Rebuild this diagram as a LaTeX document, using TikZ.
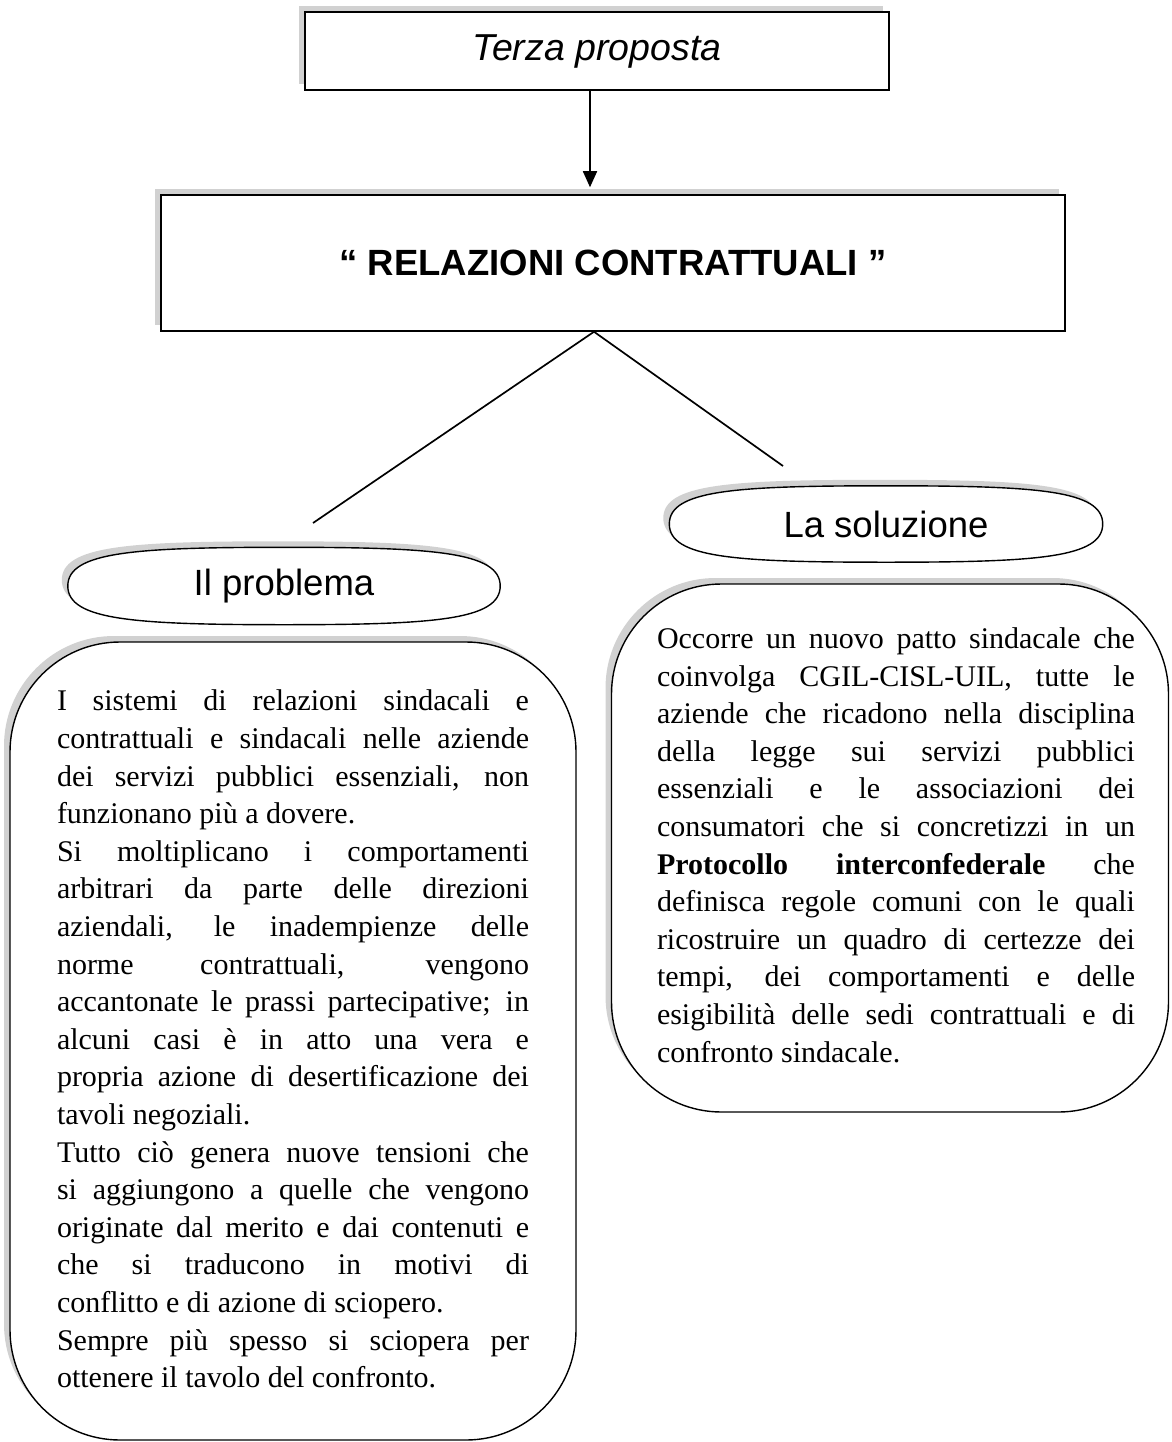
\documentclass[tikz,border=0pt]{standalone}
\usepackage{fontspec}
\setmainfont{Liberation Serif}
\setsansfont{Liberation Sans}
\usetikzlibrary{shapes.geometric, shadows, arrows.meta, backgrounds}
\hbadness=10000
\tolerance=9999
\hyphenpenalty=10000

% pill outline around a node
\newcommand\pillpath[1]{(#1.west) .. controls +(0,-34) and +(-150,0) .. (#1.north)
  .. controls +(150,0) and +(0,-34) .. (#1.east)
  .. controls +(0,34) and +(150,0) .. (#1.south)
  .. controls +(-150,0) and +(0,34) .. (#1.west) -- cycle}

\begin{document}
\begin{tikzpicture}[x=1pt, y=-1pt,
    boxshadow/.style={drop shadow={shadow xshift=-6pt, shadow yshift=6pt, fill=black!18, opacity=1}},
    titlebox/.style={draw, line width=1.5pt, fill=white, boxshadow, inner sep=0pt},
    pill/.style={inner sep=0pt, font=\sffamily\fontsize{36.5}{40}\selectfont},
    pillline/.style={draw, line width=1.4pt, fill=white, boxshadow},
    textbox/.style={draw, line width=1.4pt, fill=white, boxshadow, rounded corners=110pt, inner sep=0pt},
    bodytext/.style={align=justify, inner sep=0pt, font=\fontsize{30}{37.6}\selectfont},
    link/.style={line width=1.7pt}]
    \useasboundingbox (0,0) rectangle (1171,1442);

    % title boxes
    \node[titlebox, minimum width=584pt, minimum height=78pt,
      font=\sffamily\itshape\fontsize{37.5}{40}\selectfont] (top) at (597,51) {Terza proposta};
    \node[titlebox, minimum width=904pt, minimum height=136pt,
      font=\sffamily\bfseries\fontsize{36.5}{40}\selectfont] (rel) at (613,263) {“ RELAZIONI CONTRATTUALI ”};

    % problem / solution labels
    \node[pill, minimum width=432pt, minimum height=77pt] (prob) at (284,586) {Il problema};
    \node[pill, minimum width=433pt, minimum height=76pt] (sol) at (886,524) {La soluzione};
    \begin{pgfonlayer}{background}
      \path[pillline] \pillpath{prob};
      \path[pillline] \pillpath{sol};
    \end{pgfonlayer}

    % text boxes
    \node[textbox, minimum width=566pt, minimum height=798pt] (probbox) at (293,1041) {};
    \node[textbox, minimum width=557pt, minimum height=528pt] (solbox) at (890,848) {};

    \node[bodytext, text width=472pt] (probtxt) at ([yshift=2pt]probbox.center) {%
      I sistemi di relazioni sindacali e\linebreak
      contrattuali e sindacali nelle aziende\linebreak
      dei servizi pubblici essenziali, non\linebreak
      funzionano più a dovere.\newline
      Si moltiplicano i comportamenti\linebreak
      arbitrari da parte delle direzioni\linebreak
      aziendali, le inadempienze delle\linebreak
      norme contrattuali, vengono\linebreak
      accantonate le prassi partecipative; in\linebreak
      alcuni casi è in atto una vera e\linebreak
      propria azione di desertificazione dei\linebreak
      tavoli negoziali.\newline
      Tutto ciò genera nuove tensioni che\linebreak
      si aggiungono a quelle che vengono\linebreak
      originate dal merito e dai contenuti e\linebreak
      che si traducono in motivi di\linebreak
      conflitto e di azione di sciopero.\newline
      Sempre più spesso si sciopera per\linebreak
      ottenere il tavolo del confronto.};

    \node[bodytext, text width=478pt] (soltxt) at ([xshift=6pt, yshift=3pt]solbox.center) {%
      Occorre un nuovo patto sindacale che\linebreak
      coinvolga CGIL-CISL-UIL, tutte le\linebreak
      aziende che ricadono nella disciplina\linebreak
      della legge sui servizi pubblici\linebreak
      essenziali e le associazioni dei\linebreak
      consumatori che si concretizzi in un\linebreak
      \textbf{Protocollo interconfederale} che\linebreak
      definisca regole comuni con le quali\linebreak
      ricostruire un quadro di certezze dei\linebreak
      tempi, dei comportamenti e delle\linebreak
      esigibilità delle sedi contrattuali e di\linebreak
      confronto sindacale.};

    % connectors
    \coordinate (pl) at (313,523);
    \coordinate (sl) at (783,466);
    \draw[link, -{Triangle[length=16pt, width=14pt]}, shorten >=7pt]
      ([xshift=-7pt]top.south) -- ([xshift=-7pt]top.south |- rel.north);
    \draw[link] ([xshift=-19pt]rel.south) -- (pl);
    \draw[link] ([xshift=-19pt]rel.south) -- (sl);
\end{tikzpicture}
\end{document}
